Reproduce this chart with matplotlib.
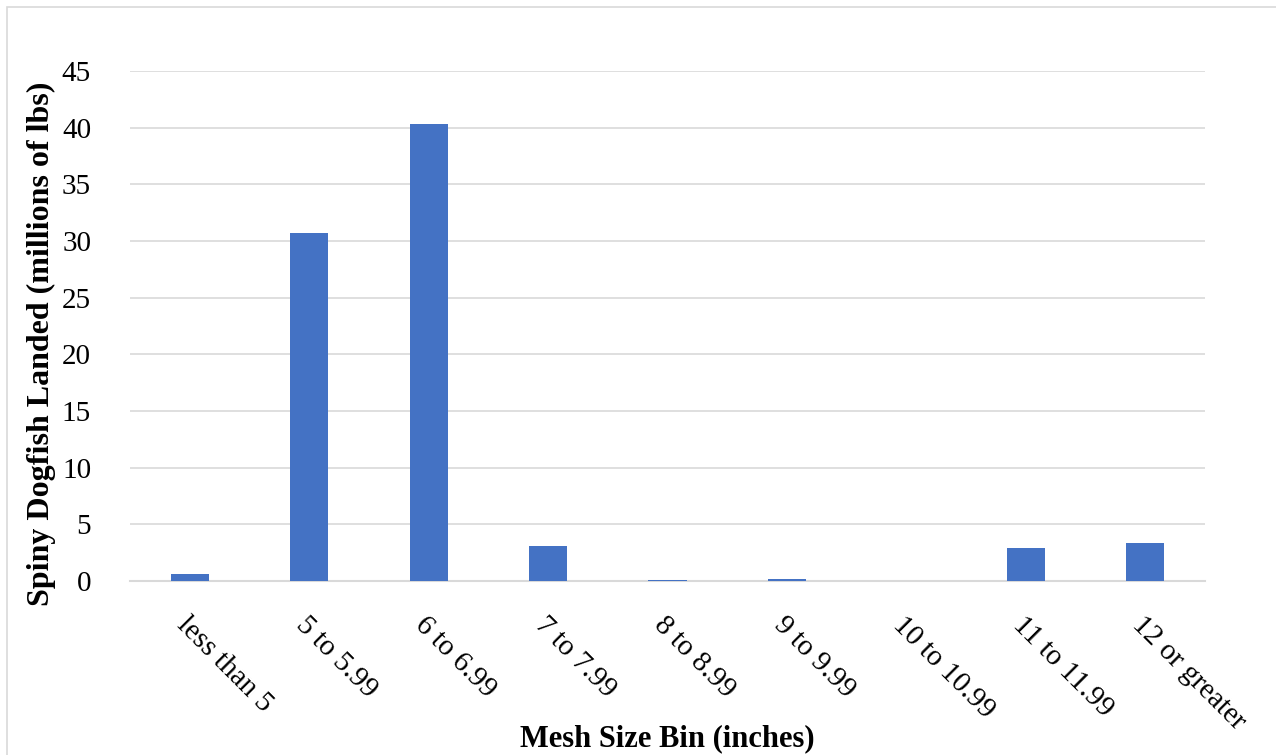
import matplotlib.pyplot as plt
from matplotlib.patches import Rectangle

categories = ["less than 5", "5 to 5.99", "6 to 6.99", "7 to 7.99", "8 to 8.99",
              "9 to 9.99", "10 to 10.99", "11 to 11.99", "12 or greater"]
landed = [0.65, 30.7, 40.35, 3.05, 0.05, 0.2, 0.0, 2.95, 3.35]
y_ticks = [0, 5, 10, 15, 20, 25, 30, 35, 40, 45]

plt.rcParams["font.family"] = ["Liberation Serif", "DejaVu Serif"]

fig = plt.figure(figsize=(12.76, 7.55), dpi=100)
ax = fig.add_axes([130 / 1276, 1 - 581 / 755, 1075 / 1276, 510 / 755])

# chart-area border (Excel style), partially off-canvas on right/bottom
fig.patches.append(Rectangle((7 / 1276, -0.05), 1.2, 1 - 7 / 755 + 0.05,
                             transform=fig.transFigure, fill=False,
                             edgecolor="#D9D9D9", linewidth=1.2))

x = range(len(categories))
ax.bar(x, landed, width=0.32, color="#4472C4", zorder=3)

ax.set_xlim(-0.5, len(categories) - 0.5)
ax.set_ylim(0, 45)
ax.set_yticks(y_ticks)
ax.yaxis.grid(True, color="#D9D9D9", linewidth=1.2, zorder=0)
ax.set_axisbelow(True)

for side in ("top", "right", "left"):
    ax.spines[side].set_visible(False)
ax.spines["bottom"].set_color("#D9D9D9")
ax.spines["bottom"].set_linewidth(1.5)

ax.set_xticks(list(x))
ax.set_xticklabels(categories, rotation=-45, ha="left", va="top",
                   rotation_mode="anchor", fontsize=21)
ax.tick_params(axis="both", length=0, labelsize=21)
ax.tick_params(axis="x", pad=22)
ax.tick_params(axis="y", pad=28)

ax.set_ylabel("Spiny Dogfish Landed (millions of lbs)", fontsize=23,
              fontweight="bold", va="center")
ax.yaxis.set_label_coords(-0.082, 0.465)
ax.set_xlabel("Mesh Size Bin (inches)", fontsize=22, fontweight="bold",
              va="center")
ax.xaxis.set_label_coords(0.5, -0.31)

fig.savefig("out.png", dpi=100)
